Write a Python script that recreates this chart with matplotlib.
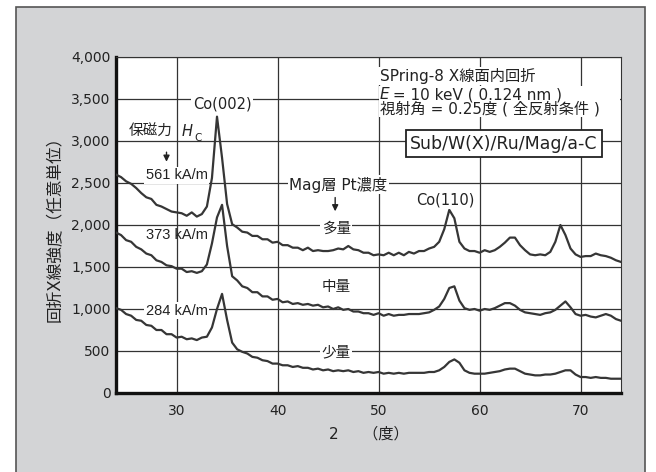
import numpy as np
import matplotlib.pyplot as plt
from matplotlib.patches import Rectangle

plt.rcParams['font.family'] = ['DejaVu Sans', 'Noto Sans CJK JP']

# 2θ (degrees), 0.5 deg step, 24 .. 74
two_theta = np.arange(24.0, 74.01, 0.5)

# Pt 多量 (Hc = 561 kA/m)
int_high = [2600, 2570, 2520, 2490, 2440, 2380, 2330, 2310, 2240, 2220,
            2190, 2160, 2150, 2140, 2110, 2150, 2100, 2130, 2220, 2560,
            3290, 2800, 2250, 2010, 1970, 1920, 1910, 1870, 1870, 1830,
            1830, 1790, 1800, 1760, 1760, 1730, 1730, 1700, 1730, 1690,
            1700, 1690, 1690, 1700, 1720, 1710, 1750, 1710, 1700, 1670,
            1670, 1640, 1650, 1640, 1670, 1640, 1670, 1640, 1680, 1660,
            1690, 1690, 1720, 1740, 1800, 1950, 2180, 2080, 1800, 1720,
            1690, 1690, 1670, 1700, 1680, 1700, 1740, 1790, 1850, 1850,
            1760, 1700, 1650, 1640, 1650, 1640, 1680, 1800, 2000, 1880,
            1720, 1650, 1620, 1630, 1630, 1660, 1640, 1630, 1610, 1580,
            1560]

# Pt 中量 (Hc = 373 kA/m)
int_mid = [1910, 1880, 1820, 1800, 1740, 1710, 1660, 1640, 1580, 1560,
           1520, 1510, 1480, 1480, 1440, 1450, 1430, 1450, 1530, 1780,
           2090, 2240, 1750, 1390, 1340, 1270, 1250, 1200, 1200, 1150,
           1150, 1110, 1120, 1080, 1090, 1060, 1070, 1050, 1060, 1040,
           1050, 1020, 1030, 1000, 1020, 990, 1000, 970, 970, 950,
           950, 930, 950, 920, 940, 920, 930, 930, 940, 940,
           940, 950, 960, 990, 1030, 1120, 1250, 1270, 1100, 1010,
           990, 1000, 980, 1000, 990, 1010, 1040, 1070, 1070, 1040,
           990, 960, 950, 940, 930, 950, 960, 990, 1040, 1090,
           1020, 940, 920, 930, 910, 900, 920, 940, 920, 880,
           860]

# Pt 少量 (Hc = 284 kA/m)
int_low = [1010, 990, 940, 920, 870, 860, 810, 800, 750, 750,
           700, 700, 660, 670, 640, 650, 630, 660, 670, 780,
           1000, 1180, 870, 600, 520, 490, 470, 430, 420, 390,
           380, 350, 350, 330, 330, 310, 320, 300, 300, 280,
           290, 270, 280, 260, 270, 260, 270, 250, 260, 240,
           250, 240, 250, 230, 240, 230, 240, 230, 240, 240,
           240, 240, 250, 250, 270, 310, 370, 400, 360, 270,
           240, 230, 230, 230, 240, 250, 260, 280, 290, 290,
           260, 230, 220, 210, 210, 220, 220, 230, 250, 270,
           270, 220, 190, 190, 180, 190, 180, 180, 170, 170,
           170]

x_ticks = [30, 40, 50, 60, 70]
y_ticks = [0, 500, 1000, 1500, 2000, 2500, 3000, 3500, 4000]

fig = plt.figure(figsize=(6.56, 4.72), dpi=100)
fig.patch.set_facecolor('white')
fig.patches.append(Rectangle((16 / 656, -0.05), (645 - 16) / 656, 1.05 - 7 / 472,
                             transform=fig.transFigure, facecolor='#d3d4d6',
                             edgecolor='#555555', linewidth=1.2, zorder=-10))

ax = fig.add_axes([116 / 656, 79 / 472, 505 / 656, 336 / 472])
ax.set_facecolor('white')

line_kw = dict(color='#363636', linewidth=1.6, zorder=3)
ax.plot(two_theta, int_high, **line_kw)
ax.plot(two_theta, int_mid, **line_kw)
ax.plot(two_theta, int_low, **line_kw)

ax.set_xlim(24, 74)
ax.set_ylim(0, 4000)
ax.set_xticks(x_ticks)
ax.set_yticks(y_ticks)
ax.set_yticklabels([f'{v:,}' for v in y_ticks])
ax.tick_params(length=0, labelsize=10, colors='#222222')
ax.tick_params(axis='y', pad=4)
ax.tick_params(axis='x', pad=8)
ax.grid(True, color='#333333', linewidth=0.9, zorder=1)
ax.set_axisbelow(True)

for side in ['left', 'bottom']:
    ax.spines[side].set_linewidth(2.4)
    ax.spines[side].set_color('#111111')
for side in ['top', 'right']:
    ax.spines[side].set_linewidth(0.8)
    ax.spines[side].set_color('#333333')

ax.set_xlabel('2     （度）', fontsize=11, color='#222222', labelpad=6)
ax.set_ylabel('回折X線強度（任意単位）', fontsize=12, color='#222222', labelpad=5)

wb = dict(facecolor='white', edgecolor='none', pad=1.0)
txt = dict(fontsize=10.5, color='#222222', zorder=5)
lib = ['Liberation Sans', 'Noto Sans CJK JP']

ax.text(34.5, 3440, 'Co(002)', ha='center', va='center', bbox=wb, **txt)
ax.text(56.6, 2300, 'Co(110)', ha='center', va='center', bbox=wb, **txt)

ax.text(25.3, 3110, '保磁力', ha='left', va='center', **txt)
ax.text(30.5, 3110, 'H', ha='left', va='center', style='italic', fontsize=10.5, color='#222222')
ax.text(31.8, 3040, 'C', ha='left', va='center', fontsize=7.5, color='#222222')
ax.annotate('', xy=(29.0, 2720), xytext=(29.0, 2900),
            arrowprops=dict(arrowstyle='-|>', color='#222222', lw=1, mutation_scale=9))

ax.text(30.0, 2590, '561 kA/m', ha='center', va='center', bbox=wb, family=lib, **txt)
ax.text(30.0, 1880, '373 kA/m', ha='center', va='center', family=lib, **txt)
ax.text(30.0, 980, '284 kA/m', ha='center', va='center', bbox=wb, family=lib, **txt)

ax.text(46.0, 2480, 'Mag層 Pt濃度', ha='center', va='center', bbox=wb, fontsize=11,
        color='#222222', zorder=5)
ax.annotate('', xy=(45.7, 2130), xytext=(45.7, 2360),
            arrowprops=dict(arrowstyle='-|>', color='#222222', lw=1, mutation_scale=9))
ax.text(45.8, 1960, '多量', ha='center', va='center', bbox=wb, **txt)
ax.text(45.8, 1265, '中量', ha='center', va='center', **txt)
ax.text(45.8, 485, '少量', ha='center', va='center', bbox=wb, **txt)

# measurement conditions block (white backing behind lines 2-3)
ax.add_patch(Rectangle((50.0, 3290), 23.9, 370, facecolor='white', edgecolor='none', zorder=4))
blk = dict(fontsize=11, color='#222222', zorder=5)
ax.text(50.1, 3775, 'SPring-8 X線面内回折', ha='left', va='center', bbox=wb, **blk)
ax.text(50.1, 3550, 'E', ha='left', va='center', style='italic', **blk)
ax.text(50.9, 3550, ' = 10 keV ( 0.124 nm )', ha='left', va='center', **blk)
ax.text(50.1, 3385, '視射角 = 0.25度 ( 全反射条件 )', ha='left', va='center', **blk)

ax.text(62.4, 2970, 'Sub/W(X)/Ru/Mag/a-C', ha='center', va='center', fontsize=12.5,
        color='#222222', zorder=5,
        bbox=dict(facecolor='white', edgecolor='#222222', linewidth=1.3, pad=3))

fig.savefig('out.png', dpi=100)
